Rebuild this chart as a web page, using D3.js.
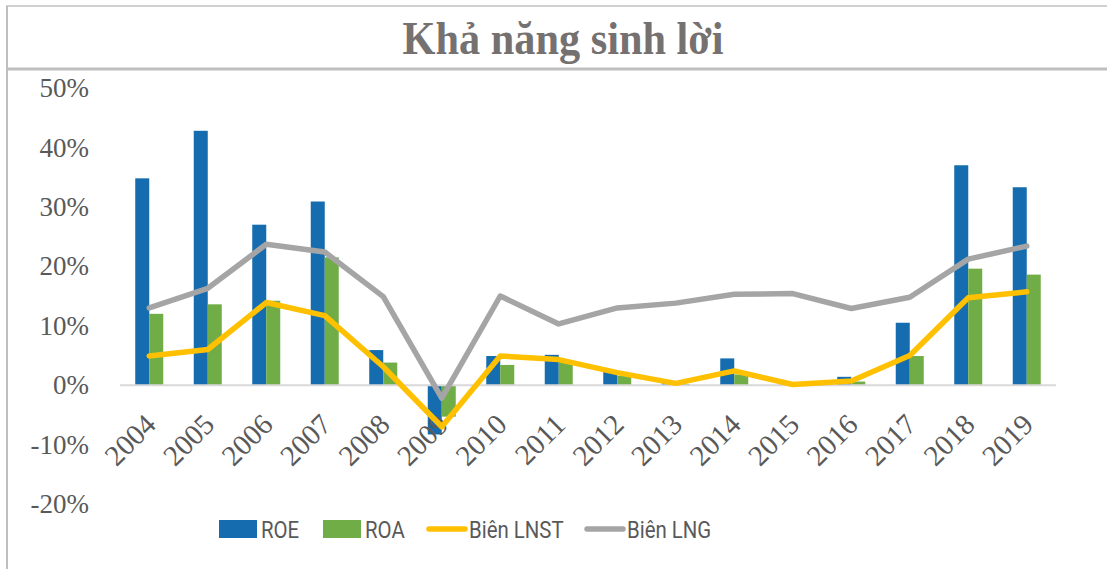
<!DOCTYPE html>
<html>
<head>
<meta charset="utf-8">
<script src="https://cdn.jsdelivr.net/npm/d3@7"></script>
<style>
body { margin: 0; background: #fff; }
svg { display: block; }
</style>
</head>
<body>
<div id="chart"></div>
<script>
// data
var years = ["2004","2005","2006","2007","2008","2009","2010","2011","2012","2013","2014","2015","2016","2017","2018","2019"];
var roe  = [34.8, 42.8, 27.0, 30.9, 5.9, -8.3, 4.9, 5.1, 2.3, 0.3, 4.5, 0.1, 1.4, 10.5, 37.0, 33.3];
var roa  = [12.0, 13.6, 14.2, 21.5, 3.8, -5.3, 3.4, 4.2, 1.6, 0.2, 1.8, 0.1, 0.6, 4.9, 19.6, 18.6];
var lnst = [4.9, 6.0, 13.9, 11.7, 3.1, -7.0, 4.9, 4.3, 2.1, 0.3, 2.4, 0.1, 0.7, 5.0, 14.7, 15.7];
var lng  = [13.0, 16.3, 23.7, 22.4, 14.9, -2.2, 15.0, 10.3, 13.0, 13.8, 15.3, 15.4, 12.9, 14.8, 21.2, 23.4];
var yTicks = [-20, -10, 0, 10, 20, 30, 40, 50];

var width = 1107, height = 569;
var svg = d3.select("#chart").append("svg")
    .attr("width", width)
    .attr("height", height);

// frames
svg.append("rect")
    .attr("x", 7).attr("y", 6)
    .attr("width", 1120).attr("height", 63)
    .style("fill", "none")
    .style("stroke", "#d0d0d0")
    .style("stroke-width", 2);
svg.append("line")
    .attr("x1", 7).attr("x2", width).attr("y1", 69).attr("y2", 69)
    .style("stroke", "#bfbfbf").style("stroke-width", 3);
svg.append("line")
    .attr("x1", 7).attr("x2", 7).attr("y1", 6).attr("y2", height)
    .style("stroke", "#bfbfbf").style("stroke-width", 2);

svg.append("text")
    .attr("transform", "translate(563,54) scale(0.92,1)")
    .attr("text-anchor", "middle")
    .style("font-family", "'Liberation Serif', 'Times New Roman', serif")
    .style("font-weight", "bold")
    .style("font-size", "46px")
    .style("fill", "#767171")
    .text("Khả năng sinh lời");

var x = d3.scaleBand().domain(years).range([120, 1056]);
var y = d3.scaleLinear().domain([-20, 50]).range([504, 88]);
var bw = 14;
var cx = function(d, i) { return x(years[i]) + x.bandwidth() / 2; };

// y axis labels
var yAxis = svg.append("g")
    .attr("transform", "translate(89,0)")
    .call(d3.axisLeft(y).tickValues(yTicks).tickSize(0).tickPadding(0)
        .tickFormat(function(d) { return d + "%"; }));
yAxis.select(".domain").remove();
yAxis.selectAll("text")
    .style("font-family", "'Liberation Serif', 'Times New Roman', serif")
    .style("font-size", "27px")
    .style("fill", "#595959");

// bars
svg.append("g").selectAll("rect").data(roe).enter().append("rect")
    .attr("x", function(d, i) { return cx(d, i) - bw; })
    .attr("y", function(d) { return y(Math.max(0, d)); })
    .attr("width", bw)
    .attr("height", function(d) { return Math.abs(y(d) - y(0)); })
    .style("fill", "#156CAE");

svg.append("g").selectAll("rect").data(roa).enter().append("rect")
    .attr("x", function(d, i) { return cx(d, i); })
    .attr("y", function(d) { return y(Math.max(0, d)); })
    .attr("width", bw)
    .attr("height", function(d) { return Math.abs(y(d) - y(0)); })
    .style("fill", "#70AD47");

// zero line
svg.append("line")
    .attr("x1", 120).attr("x2", 1056)
    .attr("y1", y(0)).attr("y2", y(0))
    .style("stroke", "#d9d9d9").style("stroke-width", 2);

// x labels
svg.append("g").selectAll("text").data(years).enter().append("text")
    .attr("transform", function(d) {
        return "translate(" + (x(d) + x.bandwidth() / 2 - 6) + ",412) rotate(-45)";
    })
    .attr("text-anchor", "end")
    .attr("dy", "0.7em")
    .style("font-family", "'Liberation Serif', 'Times New Roman', serif")
    .style("font-size", "29px")
    .style("fill", "#595959")
    .text(function(d) { return d; });

// lines
var line = d3.line()
    .x(function(d, i) { return cx(d, i); })
    .y(function(d) { return y(d); });

svg.append("path")
    .datum(lng)
    .attr("d", line)
    .style("fill", "none")
    .style("stroke", "#A5A5A5")
    .style("stroke-width", 5.5)
    .style("stroke-linecap", "round")
    .style("stroke-linejoin", "round");

svg.append("path")
    .datum(lnst)
    .attr("d", line)
    .style("fill", "none")
    .style("stroke", "#FFC000")
    .style("stroke-width", 5.5)
    .style("stroke-linecap", "round")
    .style("stroke-linejoin", "round");

// legend
var legend = [
    {name: "ROE", type: "rect", color: "#156CAE", x: 219},
    {name: "ROA", type: "rect", color: "#70AD47", x: 323},
    {name: "Biên LNST", type: "line", color: "#FFC000", x: 427},
    {name: "Biên LNG", type: "line", color: "#A5A5A5", x: 585}
];
var lg = svg.append("g").selectAll("g").data(legend).enter().append("g")
    .attr("transform", function(d) { return "translate(" + d.x + ",529)"; });
lg.filter(function(d) { return d.type === "rect"; }).append("rect")
    .attr("x", 0).attr("y", -9).attr("width", 38).attr("height", 18)
    .style("fill", function(d) { return d.color; });
lg.filter(function(d) { return d.type === "line"; }).append("line")
    .attr("x1", 2).attr("x2", 38).attr("y1", 0).attr("y2", 0)
    .style("stroke", function(d) { return d.color; })
    .style("stroke-width", 5.5)
    .style("stroke-linecap", "round");
lg.append("text")
    .attr("transform", "translate(42,0) scale(0.85,1)")
    .attr("dy", "0.36em")
    .style("font-family", "Roboto, 'Open Sans', sans-serif")
    .style("font-size", "24px")
    .style("fill", "#595959")
    .text(function(d) { return d.name; });
</script>
</body>
</html>
